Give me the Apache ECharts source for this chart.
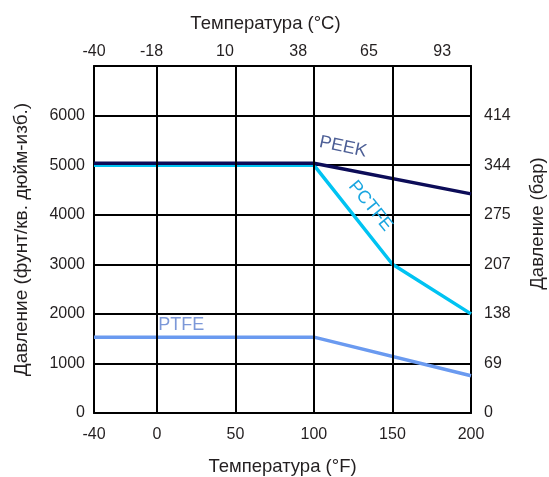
<!DOCTYPE html>
<html>
<head>
<meta charset="utf-8">
<script src="https://cdn.jsdelivr.net/npm/echarts@6/dist/echarts.min.js"></script>
<style>
  html, body { margin: 0; padding: 0; background: #fff; }
  #chart { width: 549px; height: 477px; }
</style>
</head>
<body>
<div id="chart"></div>
<script>
// Temperature ticks: bottom axis in °F, top axis in °C
const tempF = [-40, 0, 50, 100, 150, 200];
const tempC = [-40, -18, 10, 38, 65, 93];
// Pressure ticks: left axis in psig, right axis in bar
const psiTicks = [0, 1000, 2000, 3000, 4000, 5000, 6000];
const barTicks = ['0', '69', '138', '207', '275', '344', '414'];

// Pressure rating curves (temperature °F, pressure psig)
const peekTemp = [-40, 100, 200];
const peekPsi = [5040, 5040, 4420];
const pctfeTemp = [-40, 100, 150, 200];
const pctfePsi = [5000, 5000, 3000, 2000];
const ptfeTemp = [-40, 100, 200];
const ptfePsi = [1530, 1530, 750];

const FONT = '"Liberation Sans", Arial, sans-serif';
const TXT = '#231f20';
const FRAME = { show: true, onZero: false, lineStyle: { color: '#000', width: 2 } };

const pairs = (xs, ys) => xs.map((x, i) => [x, ys[i]]);

function tag(text, coord, color, rotate) {
  return {
    silent: true,
    symbol: 'circle',
    symbolSize: 0,
    data: [{ coord: coord }],
    label: {
      show: true, position: 'inside', formatter: text, rotate: rotate,
      color: color, fontSize: 18, fontFamily: FONT
    }
  };
}

const chart = echarts.init(document.getElementById('chart'), null, { renderer: 'canvas' });

chart.setOption({
  animation: false,
  backgroundColor: '#fff',
  grid: { left: 94, right: 78, top: 66, bottom: 64, containLabel: false, outerBoundsMode: 'none' },
  xAxis: [
    {
      type: 'value', position: 'bottom', min: -40, max: 200,
      name: 'Температура (°F)', nameLocation: 'middle', nameGap: 44,
      nameTextStyle: { fontSize: 18.5, color: TXT, fontFamily: FONT },
      axisLine: FRAME,
      axisTick: { show: false, customValues: tempF },
      axisLabel: { customValues: tempF, margin: 14, fontSize: 16, color: TXT, fontFamily: FONT },
      splitLine: { show: false }
    },
    {
      type: 'value', position: 'top', min: -40, max: 104,
      name: 'Температура (°C)', nameLocation: 'middle', nameGap: 33,
      nameTextStyle: { fontSize: 18.5, color: TXT, fontFamily: FONT, padding: [0, 34, 0, 0] },
      axisLine: FRAME,
      axisTick: { show: false, customValues: tempC },
      axisLabel: { customValues: tempC, margin: 6, fontSize: 16, color: TXT, fontFamily: FONT },
      splitLine: { show: false }
    }
  ],
  yAxis: [
    {
      type: 'value', position: 'left', min: 0, max: 7000, interval: 1000,
      name: 'Давление (фунт/кв. дюйм-изб.)', nameLocation: 'middle', nameGap: 63, nameRotate: 90,
      nameTextStyle: { fontSize: 19, color: TXT, fontFamily: FONT },
      axisLine: FRAME,
      axisTick: { show: false },
      axisLabel: {
        margin: 9, fontSize: 16, color: TXT, fontFamily: FONT,
        formatter: v => (psiTicks.indexOf(v) >= 0 ? String(v) : '')
      },
      splitLine: { show: true, lineStyle: { color: '#000', width: 2 } }
    },
    {
      type: 'value', position: 'right', min: 0, max: 7000, interval: 1000,
      name: 'Давление (бар)', nameLocation: 'middle', nameGap: 57, nameRotate: 90,
      nameTextStyle: { fontSize: 18.5, color: TXT, fontFamily: FONT, padding: [0, 0, 0, 32] },
      axisLine: FRAME,
      axisTick: { show: false },
      axisLabel: {
        margin: 13, fontSize: 16, color: TXT, fontFamily: FONT,
        formatter: v => {
          const i = psiTicks.indexOf(v);
          return i >= 0 ? barTicks[i] : '';
        }
      },
      splitLine: { show: false }
    }
  ],
  series: [
    {
      // vertical grid lines at the °F ticks
      name: 'grid', type: 'line', xAxisIndex: 0, yAxisIndex: 0, z: 1,
      data: [], silent: true,
      markLine: {
        silent: true, symbol: 'none', label: { show: false },
        lineStyle: { color: '#000', width: 2, type: 'solid' },
        data: tempF.slice(1, -1).map(v => ({ xAxis: v }))
      }
    },
    {
      name: 'PTFE', type: 'line', xAxisIndex: 0, yAxisIndex: 0, z: 3,
      data: pairs(ptfeTemp, ptfePsi), showSymbol: false, silent: true,
      lineStyle: { color: '#6a9af0', width: 3.5 },
      markPoint: tag('PTFE', [15.5, 1775], '#7c98d8', 0)
    },
    {
      name: 'PCTFE', type: 'line', xAxisIndex: 0, yAxisIndex: 0, z: 3,
      data: pairs(pctfeTemp, pctfePsi), showSymbol: false, silent: true,
      lineStyle: { color: '#00c3f2', width: 3.5 },
      markPoint: tag('PCTFE', [136, 4176], '#1aa6e0', -51)
    },
    {
      name: 'PEEK', type: 'line', xAxisIndex: 0, yAxisIndex: 0, z: 3,
      data: pairs(peekTemp, peekPsi), showSymbol: false, silent: true,
      lineStyle: { color: '#0c0c58', width: 3.5 },
      markPoint: tag('PEEK', [118.5, 5366], '#4d5f96', -12)
    }
  ]
});
</script>
</body>
</html>
